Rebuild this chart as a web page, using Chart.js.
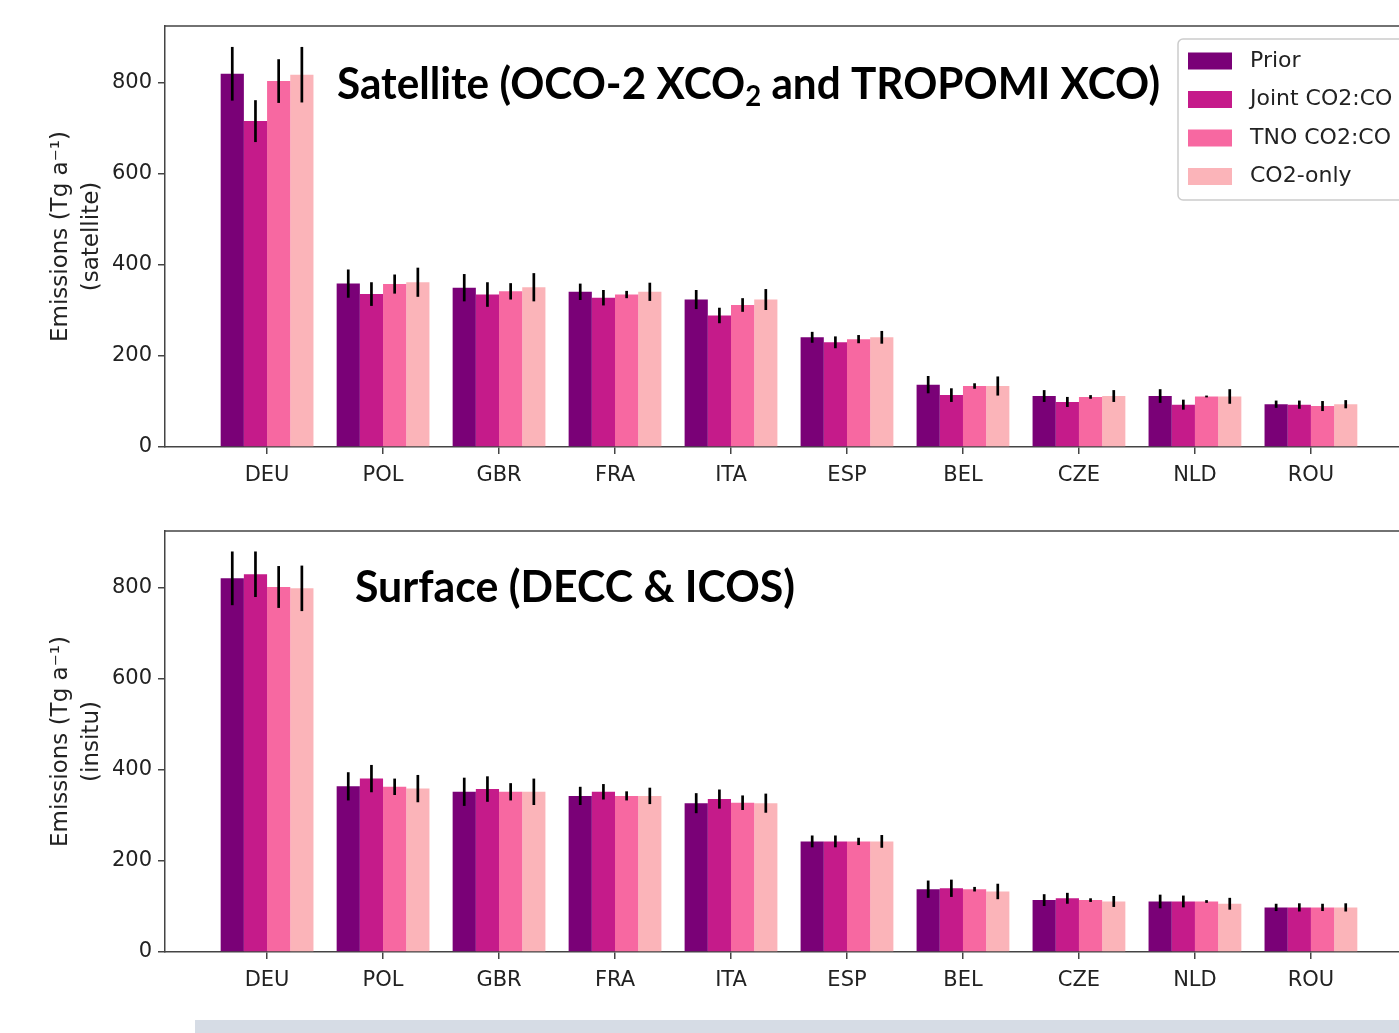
<!DOCTYPE html>
<html>
<head>
<meta charset="utf-8">
<script src="https://cdn.jsdelivr.net/npm/chart.js@4.4.1/dist/chart.umd.min.js"></script>
<style>
  html, body { margin: 0; padding: 0; background: #fff; overflow: hidden; width: 1399px; height: 1033px; }
  .panel { position: absolute; left: 0; }
  #strip { position: absolute; left: 195px; top: 1020px; width: 1204px; height: 13px; background: #d6dce5; }
</style>
</head>
<body>
<div class="panel" style="top:0"><canvas id="sat" width="1430" height="515"></canvas></div>
<div class="panel" style="top:505px"><canvas id="sfc" width="1430" height="515"></canvas></div>
<div id="strip"></div>
<script>
const countries = ['DEU', 'POL', 'GBR', 'FRA', 'ITA', 'ESP', 'BEL', 'CZE', 'NLD', 'ROU'];
const seriesNames = ['Prior', 'Joint CO2:CO', 'TNO CO2:CO', 'CO2-only'];
const seriesColours = ['#7a0177', '#c51b8a', '#f768a1', '#fbb4b9'];
const yTicks = [0, 200, 400, 600, 800];

// satellite panel
const satPrior = [820, 359, 350, 341, 324, 241, 137, 112, 112, 94];
const satPriorErr = [59, 31, 30, 18, 21, 12, 19, 13, 15, 8];
const satJoint = [716, 336, 335, 328, 289, 230, 114, 99, 93, 93];
const satJointErr = [46, 26, 27, 17, 17, 13, 15, 11, 11, 9];
const satTno = [804, 358, 342, 335, 312, 237, 134, 110, 111, 90];
const satTnoErr = [48, 21, 18, 8, 15, 9, 6, 4, 2, 11];
const satCo2 = [818, 362, 351, 341, 324, 241, 134, 112, 111, 94];
const satCo2Err = [61, 32, 31, 20, 23, 14, 21, 13, 16, 9];

// surface (insitu) panel
const sfcPrior = [821, 364, 352, 343, 327, 243, 138, 114, 111, 98];
const sfcPriorErr = [59, 31, 31, 20, 22, 13, 19, 13, 15, 8];
const sfcJoint = [830, 381, 358, 352, 336, 243, 140, 118, 111, 98];
const sfcJointErr = [50, 30, 28, 17, 21, 13, 19, 12, 13, 9];
const sfcTno = [802, 363, 352, 343, 328, 243, 138, 114, 111, 98];
const sfcTnoErr = [46, 18, 19, 10, 16, 8, 5, 4, 3, 8];
const sfcCo2 = [799, 359, 352, 343, 327, 243, 133, 111, 106, 98];
const sfcCo2Err = [50, 30, 29, 18, 21, 14, 17, 12, 13, 9];

const axisColour = '#444';
const tickFont = { family: 'DejaVu Sans', size: 21 };

const errorBars = {
    id: 'errorBars',
    afterDatasetsDraw(chart) {
        const ctx = chart.ctx;
        const y = chart.scales.y;
        ctx.save();
        ctx.strokeStyle = '#000';
        ctx.lineWidth = 2.7;
        chart.data.datasets.forEach((ds, i) => {
            chart.getDatasetMeta(i).data.forEach((bar, j) => {
                const v = ds.data[j].y, e = ds.errors[j];
                ctx.beginPath();
                ctx.moveTo(bar.x, y.getPixelForValue(v - e));
                ctx.lineTo(bar.x, y.getPixelForValue(v + e));
                ctx.stroke();
            });
        });
        ctx.restore();
    }
};

const panelDeco = {
    id: 'panelDeco',
    afterDraw(chart, args, opts) {
        const ctx = chart.ctx;
        const a = chart.chartArea;
        ctx.save();

        // top + right spines
        ctx.strokeStyle = axisColour;
        ctx.lineWidth = 1.5;
        ctx.beginPath();
        ctx.moveTo(a.left, a.top);
        ctx.lineTo(a.right, a.top);
        ctx.lineTo(a.right, a.bottom);
        ctx.stroke();

        // panel title, with optional subscript part
        const size = 43;
        const big = 'bold ' + size + 'px Lato';
        const small = 'bold ' + Math.round(size * 0.64) + 'px Lato';
        let total = 0;
        opts.title.forEach(p => {
            ctx.font = p.sub ? small : big;
            total += ctx.measureText(p.t).width;
        });
        ctx.translate(opts.titleX, opts.titleBase);
        ctx.scale(opts.titleWidth / total, 1);
        ctx.fillStyle = '#000';
        ctx.textBaseline = 'alphabetic';
        let x = 0;
        opts.title.forEach(p => {
            ctx.font = p.sub ? small : big;
            ctx.fillText(p.t, x, p.sub ? 7 : 0);
            x += ctx.measureText(p.t).width;
        });
        ctx.setTransform(1, 0, 0, 1, 0, 0);

        if (opts.legend) {
            const bx = 1178, by = 39, bw = 260, bh = 161;
            ctx.fillStyle = 'rgba(255,255,255,0.85)';
            ctx.strokeStyle = '#cccccc';
            ctx.lineWidth = 1.5;
            ctx.beginPath();
            ctx.roundRect(bx, by, bw, bh, 5);
            ctx.fill();
            ctx.stroke();
            ctx.font = '22px "DejaVu Sans"';
            ctx.textBaseline = 'middle';
            chart.data.datasets.forEach((ds, i) => {
                const cy = 61 + i * 38.5;
                ctx.fillStyle = ds.backgroundColor;
                ctx.fillRect(1188, cy - 8.5, 44, 17);
                ctx.fillStyle = '#222';
                ctx.fillText(ds.label, 1250, cy);
            });
        }
        ctx.restore();
    }
};

function makeChart(id, values, errors, yTitle, deco) {
    const datasets = values.map((vals, k) => ({
        label: seriesNames[k],
        data: vals.map((v, i) => ({ x: i, y: v })),
        errors: errors[k],
        backgroundColor: seriesColours[k],
        borderWidth: 0,
        categoryPercentage: 0.8,
        barPercentage: 1.0
    }));

    return new Chart(document.getElementById(id).getContext('2d'), {
        type: 'bar',
        data: { datasets },
        plugins: [errorBars, panelDeco],
        options: {
            responsive: false,
            animation: false,
            devicePixelRatio: 1,
            layout: { padding: { top: 26, right: 17, left: 0, bottom: 0 } },
            plugins: {
                legend: { display: false },
                tooltip: { enabled: false },
                panelDeco: deco
            },
            scales: {
                x: {
                    type: 'linear',
                    min: -0.88,
                    max: 9.88,
                    offset: false,
                    afterBuildTicks: s => { s.ticks = countries.map((c, i) => ({ value: i })); },
                    afterFit: s => { s.height = 68; },
                    grid: { offset: false, drawOnChartArea: false, drawTicks: true, tickLength: 7, color: axisColour, lineWidth: 1.5 },
                    border: { display: true, color: axisColour, width: 1.5 },
                    ticks: {
                        autoSkip: false, maxRotation: 0, padding: 9,
                        color: '#222', font: tickFont,
                        callback: v => countries[v]
                    }
                },
                y: {
                    min: 0,
                    max: 925,
                    afterBuildTicks: s => { s.ticks = yTicks.map(v => ({ value: v })); },
                    afterFit: s => { s.width = 165; },
                    grid: { drawOnChartArea: false, drawTicks: true, tickLength: 7, color: axisColour, lineWidth: 1.5 },
                    border: { display: true, color: axisColour, width: 1.5 },
                    ticks: { padding: 6, color: '#222', font: tickFont },
                    title: {
                        display: true,
                        text: yTitle,
                        color: '#222',
                        font: { family: 'DejaVu Sans', size: 23, lineHeight: 1.32 },
                        padding: { top: 46, bottom: 0 }
                    }
                }
            }
        }
    });
}

makeChart('sat',
    [satPrior, satJoint, satTno, satCo2],
    [satPriorErr, satJointErr, satTnoErr, satCo2Err],
    ['Emissions (Tg a\u207b\u00b9)', '(satellite)'],
    {
        title: [{ t: 'Satellite (OCO-2 XCO' }, { t: '2', sub: true }, { t: ' and TROPOMI XCO)' }],
        titleX: 337, titleBase: 99, titleWidth: 823, legend: true
    });

makeChart('sfc',
    [sfcPrior, sfcJoint, sfcTno, sfcCo2],
    [sfcPriorErr, sfcJointErr, sfcTnoErr, sfcCo2Err],
    ['Emissions (Tg a\u207b\u00b9)', '(insitu)'],
    {
        title: [{ t: 'Surface (DECC & ICOS)' }],
        titleX: 355, titleBase: 97, titleWidth: 440, legend: false
    });
</script>
</body>
</html>
